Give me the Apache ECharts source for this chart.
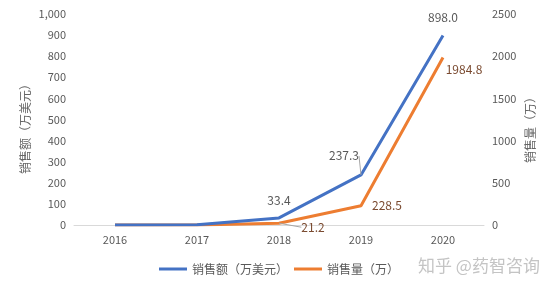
<!DOCTYPE html>
<html><head><meta charset="utf-8">
<script src="https://cdn.jsdelivr.net/npm/echarts@6/dist/echarts.min.js"></script>
<style>html,body{margin:0;padding:0;background:#fff}#c{width:554px;height:288px}</style>
</head><body><div id="c"></div>
<script>
const years = ['2016','2017','2018','2019','2020'];
const salesAmount = [0.3, 1.2, 33.4, 237.3, 898.0];   // 销售额（万美元）
const salesVolume = [0.2, 1.0, 21.2, 228.5, 1984.8];  // 销售量（万）
const showLabel = [false, false, true, true, true];
const nameAmount = '销售额（万美元）';
const nameVolume = '销售量（万）';

// label offsets (styling)
const offA = [[0,0],[0,0],[0,-18],[-17,-19],[0,-18]];
const offV = [[0,0],[0,0],[34,4],[26,0],[21,12]];
const lineA = [false,false,false,true,false];
const lineV = [false,false,true,false,false];

const font = "'Microsoft YaHei','Noto Sans CJK SC',sans-serif";
function mk(vals, lines){
  return vals.map((v,i)=>({value:v, label:{show:showLabel[i]}, labelLine:{show:lines[i]}}));
}
const chart = echarts.init(document.getElementById('c'));
chart.setOption({
  animation:false,
  textStyle:{fontFamily:font},
  grid:{left:74,right:70,top:14,bottom:63},
  legend:{bottom:8,left:154,itemWidth:28,itemHeight:3,itemGap:6,icon:'rect',
    textStyle:{color:'#595959',fontSize:12},data:[nameAmount,nameVolume]},
  xAxis:{type:'category',data:years,boundaryGap:true,
    axisLine:{lineStyle:{color:'#d9d9d9'}},axisTick:{show:false},
    axisLabel:{color:'#595959',fontSize:11,margin:9}},
  yAxis:[
    {type:'value',min:0,max:1000,interval:100,
     axisLabel:{color:'#595959',fontSize:11,formatter:v=>v.toLocaleString('en-US')},
     splitLine:{show:false},axisLine:{show:false},axisTick:{show:false}},
    {type:'value',min:0,max:2500,interval:500,
     axisLabel:{color:'#595959',fontSize:11,formatter:v=>String(v)},
     splitLine:{show:false},axisLine:{show:false},axisTick:{show:false}}
  ],
  graphic:[
    {type:'text',x:25,y:126,rotation:Math.PI/2,style:{text:nameAmount,fill:'#666',font:'12px '+font,align:'center',verticalAlign:'middle'}},
    {type:'text',x:530,y:127,rotation:Math.PI/2,style:{text:nameVolume,fill:'#666',font:'12px '+font,align:'center',verticalAlign:'middle'}},
    {type:'text',left:418,top:257,style:{text:'知乎 @药智咨询',fill:'#c4c4c4',font:'17px '+font}}
  ],
  series:[
    {name:nameAmount,type:'line',yAxisIndex:0,data:mk(salesAmount,lineA),
     symbol:'circle',symbolSize:0.1,showSymbol:true,
     lineStyle:{color:'#4472C4',width:3},itemStyle:{color:'#4472C4'},
     label:{position:'inside',color:'#595959',fontSize:12,formatter:p=>p.value.toFixed(1)},
     labelLine:{lineStyle:{color:'#a6a6a6',width:1}},
     labelLayout:p=>({dx:offA[p.dataIndex][0],dy:offA[p.dataIndex][1]}),
     z:3},
    {name:nameVolume,type:'line',yAxisIndex:1,data:mk(salesVolume,lineV),
     symbol:'circle',symbolSize:0.1,showSymbol:true,
     lineStyle:{color:'#ED7D31',width:3},itemStyle:{color:'#ED7D31'},
     label:{position:'inside',color:'#7a4a30',fontSize:12,formatter:p=>p.value.toFixed(1)},
     labelLine:{lineStyle:{color:'#a6a6a6',width:1}},
     labelLayout:p=>({dx:offV[p.dataIndex][0],dy:offV[p.dataIndex][1]}),
     z:2}
  ]
});
</script></body></html>
